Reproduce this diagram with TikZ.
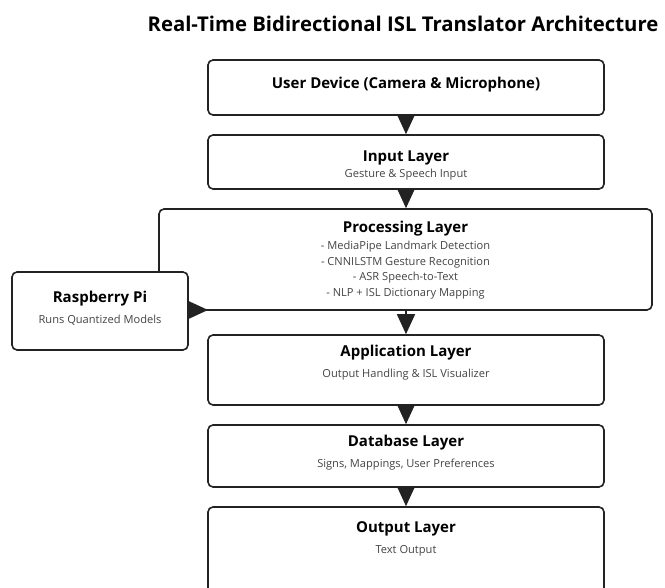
\documentclass[tikz,border=0pt]{standalone}
\usepackage{fontspec}
\setmainfont{Open Sans}
\usetikzlibrary{arrows.meta,positioning}
\definecolor{edge}{HTML}{222222}
\definecolor{sub}{HTML}{444444}
\tikzset{
  layerbox/.style={draw=edge, line width=1.6pt, rounded corners=5pt, fill=white},
  ttl/.style={font=\bfseries\fontsize{15}{18}\selectfont, text=black, inner sep=0pt},
  subt/.style={font=\fontsize{11.1}{15.5}\selectfont, text=sub, inner sep=0pt, align=center},
  arr/.style={draw=edge, line width=1.6pt, -{Triangle[width=18pt,length=20pt]}},
}
\begin{document}
\begin{tikzpicture}[x=1pt,y=-1pt]
\useasboundingbox (0,0) rectangle (665,588);
\fill[white] (0,0) rectangle (665,588);
% title
\node[font=\bfseries\fontsize{20.3}{24}\selectfont, inner sep=0pt] (title) at (403,24) {Real-Time Bidirectional ISL Translator Architecture};
% boxes
\node[layerbox, minimum width=396pt, minimum height=55pt, inner sep=0pt] (userb) at (406,87.5) {};
\node[ttl] (usert) at (406,85) {User Device (Camera \& Microphone)};

\node[layerbox, minimum width=396pt, minimum height=54pt, inner sep=0pt] (input) at (406,162) {};
\node[ttl] (inputt) at (406,158) {Input Layer};
\node[subt] (inputs) at (406,175) {Gesture \& Speech Input};

\node[layerbox, minimum width=493pt, minimum height=101pt, inner sep=0pt] (proc) at (405.5,259.5) {};
\node[ttl] (proct) at (405.5,229) {Processing Layer};
\node[subt, anchor=north] (procs) at (405.5,241) {- MediaPipe Landmark Detection\\- CNNILSTM Gesture Recognition\\- ASR Speech-to-Text\\- NLP + ISL Dictionary Mapping};

\node[layerbox, minimum width=176pt, minimum height=78pt, inner sep=0pt] (rpi) at (100,311) {};
\node[ttl] (rpit) at (100,299) {Raspberry Pi};
\node[subt] (rpis) at (100,320) {Runs Quantized Models};

\node[layerbox, minimum width=396pt, minimum height=70pt, inner sep=0pt] (app) at (406,370) {};
\node[ttl] (appt) at (406,353) {Application Layer};
\node[subt] (apps) at (406,375) {Output Handling \& ISL Visualizer};

\node[layerbox, minimum width=396pt, minimum height=62pt, inner sep=0pt] (db) at (406,456) {};
\node[ttl] (dbt) at (406,443) {Database Layer};
\node[subt] (dbs) at (406,465) {Signs, Mappings, User Preferences};

\node[layerbox, minimum width=396pt, minimum height=100pt, inner sep=0pt] (out) at (406,557) {};
\node[ttl] (outt) at (406,529) {Output Layer};
\node[subt] (outs) at (406,551) {Text Output};

% connectors
\draw[arr] (userb.south) -- (input.north);
\draw[arr] (input.south) -- (input.south |- proc.north);
\draw[arr] (proc.south -| app.north) -- (app.north);
\draw[arr] (app.south) -- (db.north);
\draw[arr] (db.south) -- (out.north);
\coordinate (rpitip) at (208,310);
\draw[arr] (rpi.east |- rpitip) -- (rpitip);
\end{tikzpicture}
\end{document}
